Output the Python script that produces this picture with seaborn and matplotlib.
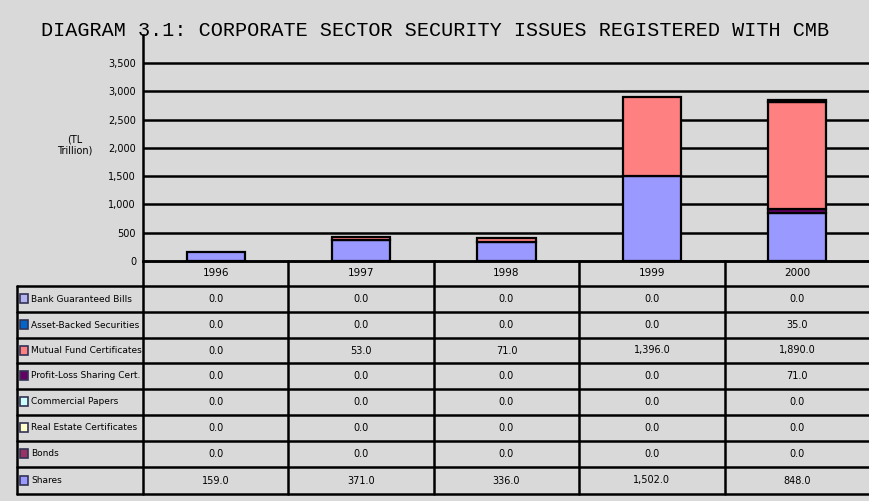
import numpy as np
import pandas as pd
import matplotlib
matplotlib.use("Agg")
import matplotlib.pyplot as plt
import seaborn as sns

# Data (TL trillion), rows in data-table order (top to bottom)
years = ["1996", "1997", "1998", "1999", "2000"]
series_names = [
    "Bank Guaranteed Bills",
    "Asset-Backed Securities",
    "Mutual Fund Certificates",
    "Profit-Loss Sharing Cert.",
    "Commercial Papers",
    "Real Estate Certificates",
    "Bonds",
    "Shares",
]
series_colors = ["#B3B3F0", "#0066CC", "#FF8080", "#660066",
                 "#CCFFFF", "#FFFFCC", "#993366", "#9999FF"]

bank_bills = [0, 0, 0, 0, 0]
asset_backed = [0, 0, 0, 0, 35]
mutual_funds = [0, 53, 71, 1396, 1890]
profit_loss = [0, 0, 0, 0, 71]
commercial_papers = [0, 0, 0, 0, 0]
real_estate = [0, 0, 0, 0, 0]
bonds = [0, 0, 0, 0, 0]
shares = [159, 371, 336, 1502, 848]

series_values = [bank_bills, asset_backed, mutual_funds, profit_loss,
                 commercial_papers, real_estate, bonds, shares]

y_ticks = [0, 500, 1000, 1500, 2000, 2500, 3000, 3500, 4000]

bg = "#D9D9D9"
sns.set_style("white")
plt.rcParams["font.family"] = ["DejaVu Sans"]
plt.rcParams["text.color"] = "black"
plt.rcParams["ytick.color"] = "black"
plt.rcParams["ytick.labelcolor"] = "black"

W, H = 870, 501
fig = plt.figure(figsize=(W / 100, H / 100), dpi=100, facecolor=bg)

# chart area in pixel coords
left, right, top, base = 143, 870, 35, 261
ax = fig.add_axes([left / W, 1 - base / H, (right - left) / W, (base - top) / H])
ax.set_facecolor(bg)

# stacked bars, last table row at the bottom of the stack
bottom = np.zeros(len(years))
for name, vals, col in reversed(list(zip(series_names, series_values, series_colors))):
    df = pd.DataFrame({"year": years, "value": vals, "bottom": bottom})
    df = df[df["value"] > 0]
    if len(df):
        sns.barplot(data=df, x="year", y="value", order=years, color=col,
                    saturation=1, width=0.4, bottom=df["bottom"].values,
                    edgecolor="black", linewidth=1.6, ax=ax, zorder=3)
    bottom = bottom + np.array(vals)

for t in y_ticks[1:-1]:
    ax.axhline(t, color="black", lw=1.8, zorder=1)
ax.set_xlim(-0.5, len(years) - 0.5)
ax.set_ylim(0, y_ticks[-1] - 5)
ax.set_yticks(y_ticks[:-1])
ax.set_yticklabels([f"{t:,}" for t in y_ticks[:-1]], fontsize=7)
ax.set_xticks([])
ax.set_xlabel("")
ax.set_ylabel("")
for s in ["top", "right"]:
    ax.spines[s].set_visible(False)
ax.spines["left"].set_linewidth(1.8)
ax.spines["bottom"].set_linewidth(1.8)
ax.spines["left"].set_color("black")
ax.spines["bottom"].set_color("black")
ax.tick_params(axis="y", length=3, width=1.2, pad=2)
fig.text(75 / W, 1 - 145 / H, "(TL\nTrillion)", ha="center", va="center", fontsize=7)

fig.text(435 / W, 1 - 30 / H,
         "DIAGRAM 3.1: CORPORATE SECTOR SECURITY ISSUES REGISTERED WITH CMB",
         ha="center", va="center", fontsize=14.5, family="Liberation Mono")

# data table drawn in pixel coordinates
tb = fig.add_axes([0, 0, 1, 1], zorder=5)
tb.set_xlim(0, W)
tb.set_ylim(H, 0)
tb.axis("off")
tb.patch.set_visible(False)

row_lines = [261, 286, 312, 338, 363, 389, 415, 441, 467, 494]
col_w = (right - left) / len(years)
col_x = [left + i * col_w for i in range(len(years) + 1)]
lw = 1.8
tb.plot([left, W], [row_lines[0]] * 2, color="black", lw=lw)
for y in row_lines[1:]:
    tb.plot([17, W], [y, y], color="black", lw=lw)
tb.plot([17, 17], [row_lines[1], row_lines[-1]], color="black", lw=lw)
for x in col_x[:-1]:
    tb.plot([x, x], [row_lines[0], row_lines[-1]], color="black", lw=lw)

for j, yr in enumerate(years):
    tb.text(col_x[j] + col_w / 2, (row_lines[0] + row_lines[1]) / 2, yr,
            ha="center", va="center", fontsize=7.5)

for i, (name, vals, col) in enumerate(zip(series_names, series_values, series_colors)):
    yc = (row_lines[i + 1] + row_lines[i + 2]) / 2
    tb.add_patch(plt.Rectangle((20, yc - 5), 8, 9, facecolor=col,
                               edgecolor="#333355", lw=1.2))
    tb.text(31, yc, name, ha="left", va="center", fontsize=6.5)
    for j, v in enumerate(vals):
        tb.text(col_x[j] + col_w / 2, yc, f"{v:,.1f}", ha="center", va="center",
                fontsize=7)

fig.savefig("out.png", dpi=100, facecolor=bg)
